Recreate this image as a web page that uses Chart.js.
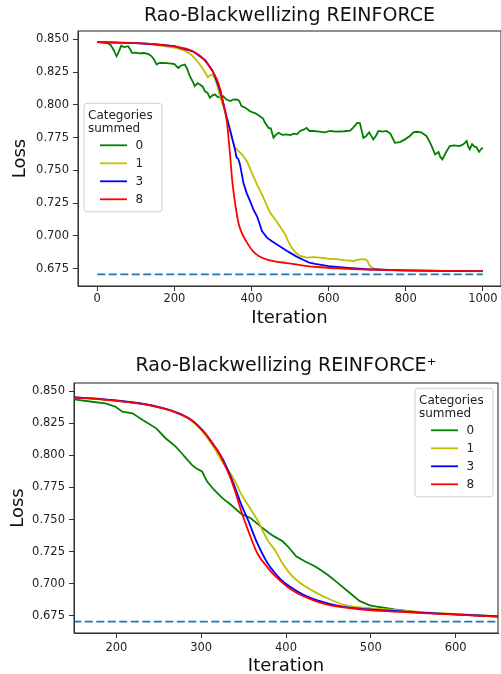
<!DOCTYPE html>
<html>
<head>
<meta charset="utf-8">
<script src="https://cdn.jsdelivr.net/npm/chart.js@4.4.1/dist/chart.umd.min.js"></script>
<style>
  html, body { margin: 0; padding: 0; background: #fff; }
  #wrap { position: relative; width: 501px; height: 674px; overflow: hidden; }
  canvas { position: absolute; left: 0; width: 501px; height: 337px; }
  #topChart { top: 0; }
  #bottomChart { top: 337px; }
</style>
</head>
<body>
<div id="wrap">
  <canvas id="topChart" width="501" height="337"></canvas>
  <canvas id="bottomChart" width="501" height="337"></canvas>
</div>
<script>
Chart.defaults.font.family = "'DejaVu Sans', sans-serif";
Chart.defaults.color = '#222';

// categories summed (legend entries)
const categories = ['0', '1', '3', '8'];
const legendTitle = ['Categories', 'summed'];
const optimumLoss = 0.6705;

// top chart: Rao-Blackwellizing REINFORCE
const topIter0 = [0,10,20,28,35,42,50,55,62,70,80,86,90,100,110,120,132,141,147,154,160,167,180,192,200,210,218,227,233,240,247,253,260,266,273,279,286,292,298,305,312,319,326,335,345,352,362,368,374,385,396,410,422,430,435,444,450,457,463,470,480,491,500,510,518,526,535,543,550,560,575,590,604,620,640,656,665,674,681,686,690,697,705,716,722,729,740,750,760,772,785,798,810,820,828,840,854,865,876,885,890,895,903,914,925,940,950,958,962,966,972,978,983,990,995,1000];
const topLoss0 = [0.8478,0.8477,0.8472,0.8468,0.8455,0.8420,0.8370,0.8400,0.8450,0.8440,0.8447,0.8420,0.8396,0.8398,0.8392,0.8395,0.8388,0.8370,0.8345,0.8307,0.8318,0.8320,0.8318,0.8314,0.8310,0.8281,0.8300,0.8307,0.8275,0.8218,0.8180,0.8142,0.8165,0.8155,0.8140,0.8104,0.8090,0.8053,0.8070,0.8079,0.8060,0.8055,0.8066,0.8040,0.8028,0.8040,0.8041,0.8030,0.7990,0.7975,0.7950,0.7935,0.7913,0.7895,0.7862,0.7824,0.7820,0.7748,0.7770,0.7786,0.7770,0.7774,0.7768,0.7780,0.7775,0.7800,0.7810,0.7824,0.7800,0.7800,0.7795,0.7790,0.7800,0.7795,0.7798,0.7802,0.7830,0.7862,0.7860,0.7800,0.7748,0.7760,0.7790,0.7736,0.7760,0.7800,0.7795,0.7800,0.7780,0.7710,0.7715,0.7736,0.7760,0.7790,0.7794,0.7790,0.7760,0.7700,0.7621,0.7640,0.7600,0.7583,0.7630,0.7685,0.7690,0.7685,0.7700,0.7723,0.7680,0.7660,0.7700,0.7680,0.7677,0.7640,0.7660,0.7672];
const topIter1 = [0,50,100,150,200,225,240,250,260,270,280,287,292,298,305,312,319,328,336,343,349,357,365,375,388,401,414,427,437,448,460,470,487,495,504,515,526,543,560,578,600,621,640,664,681,694,700,707,714,720,740,780,850,1000];
const topLoss1 = [0.8478,0.8476,0.8472,0.8458,0.8436,0.8415,0.8390,0.8365,0.8330,0.8290,0.8245,0.8210,0.8225,0.8230,0.8200,0.8140,0.8053,0.7980,0.7900,0.7830,0.7748,0.7672,0.7650,0.7621,0.7570,0.7480,0.7393,0.7317,0.7250,0.7177,0.7130,0.7088,0.7012,0.6960,0.6910,0.6870,0.6847,0.6834,0.6838,0.6834,0.6825,0.6822,0.6815,0.6808,0.6820,0.6822,0.6810,0.6770,0.6755,0.6747,0.6740,0.6735,0.6732,0.6728];
const topIter3 = [0,50,100,150,200,250,280,300,310,319,328,336,345,352,357,361,366,370,379,387,396,405,414,420,427,440,452,465,478,491,505,517,535,550,565,600,650,700,800,900,1000];
const topLoss3 = [0.8478,0.8475,0.8470,0.8462,0.8448,0.8405,0.8340,0.8255,0.8180,0.8100,0.8000,0.7900,0.7800,0.7720,0.7660,0.7600,0.7585,0.7545,0.7405,0.7330,0.7266,0.7200,0.7151,0.7100,0.7037,0.6986,0.6960,0.6935,0.6910,0.6886,0.6862,0.6841,0.6815,0.6795,0.6785,0.6768,0.6755,0.6745,0.6737,0.6733,0.6730];
const topIter8 = [0,50,100,150,200,230,250,270,285,300,310,319,328,336,340,345,350,355,360,366,375,388,400,411,422,440,460,491,530,578,650,700,800,900,1000];
const topLoss8 = [0.8478,0.8475,0.8470,0.8461,0.8446,0.8428,0.8405,0.8365,0.8315,0.8250,0.8195,0.8117,0.7990,0.7875,0.7760,0.7596,0.7420,0.7300,0.7200,0.7100,0.7020,0.6950,0.6895,0.6862,0.6840,0.6818,0.6805,0.6792,0.6775,0.6760,0.6748,0.6743,0.6737,0.6733,0.6730];

// bottom chart: Rao-Blackwellizing REINFORCE+
const botIter0 = [150,171,187,199,207,219,231,247,258,270,277,282,289,294,301,307,315,325,335,347,358,370,380,386,396,402,412,422,434,440,449,455,463,475,487,499,505,515,528,560,600,650];
const botLoss0 = [0.8435,0.8417,0.8404,0.8378,0.8340,0.8327,0.8275,0.8210,0.8133,0.8068,0.8016,0.7978,0.7926,0.7900,0.7874,0.7796,0.7732,0.7667,0.7615,0.7545,0.7512,0.7447,0.7396,0.7369,0.7331,0.7292,0.7214,0.7175,0.7137,0.7111,0.7070,0.7040,0.6995,0.6930,0.6865,0.6832,0.6825,0.6814,0.6800,0.6775,0.6762,0.6744];
const botIter1 = [150,199,250,285,301,313,325,339,347,355,366,378,388,394,400,406,416,432,452,471,491,519,560,600,650];
const botLoss1 = [0.8450,0.8425,0.8375,0.8285,0.8190,0.8080,0.7950,0.7810,0.7700,0.7615,0.7500,0.7344,0.7250,0.7180,0.7120,0.7070,0.7010,0.6943,0.6878,0.6832,0.6814,0.6800,0.6780,0.6765,0.6748];
const botIter3 = [150,199,250,285,301,313,325,335,341,347,355,366,378,385,394,404,420,440,459,483,518,560,600,650];
const botLoss3 = [0.8452,0.8427,0.8376,0.8290,0.8200,0.8098,0.7975,0.7830,0.7730,0.7620,0.7500,0.7318,0.7163,0.7100,0.7033,0.6981,0.6917,0.6865,0.6832,0.6808,0.6793,0.6775,0.6762,0.6746];
const botIter8 = [150,175,199,227,247,262,275,285,293,301,307,313,320,325,335,341,347,355,366,378,385,394,404,414,420,434,440,454,470,487,518,560,600,650];
const botLoss8 = [0.8450,0.8440,0.8425,0.8404,0.8378,0.8353,0.8320,0.8288,0.8250,0.8197,0.8150,0.8094,0.8030,0.7965,0.7815,0.7700,0.7570,0.7421,0.7240,0.7130,0.7075,0.7020,0.6965,0.6925,0.6905,0.6867,0.6853,0.6831,0.6814,0.6802,0.6787,0.6772,0.6760,0.6745];

const yTicks = [0.675, 0.700, 0.725, 0.750, 0.775, 0.800, 0.825, 0.850];
const topXTicks = [0, 200, 400, 600, 800, 1000];
const botXTicks = [200, 300, 400, 500, 600];

const lineColors = ['#008000', '#bfbf00', '#0000ff', '#ff0000'];
const optColor = '#1f77b4';

const zip = (xs, ys) => xs.slice(0, Math.min(xs.length, ys.length)).map((x, i) => ({ x: x, y: ys[i] }));

function drawLegend(ctx, x, y) {
    const w = 78, h = 108.5;
    ctx.save();
    ctx.beginPath();
    ctx.roundRect(x, y, w, h, 3);
    ctx.fillStyle = 'rgba(255,255,255,0.8)';
    ctx.fill();
    ctx.strokeStyle = '#d0d0d0';
    ctx.lineWidth = 1;
    ctx.stroke();
    ctx.fillStyle = '#222';
    ctx.font = "12px 'DejaVu Sans'";
    ctx.textAlign = 'left';
    ctx.textBaseline = 'alphabetic';
    ctx.fillText(legendTitle[0], x + 4, y + 15.5);
    ctx.fillText(legendTitle[1], x + 4, y + 29);
    ctx.textBaseline = 'middle';
    categories.forEach((c, i) => {
        const ly = y + 42 + i * 18;
        ctx.strokeStyle = lineColors[i];
        ctx.lineWidth = 1.8;
        ctx.beginPath();
        ctx.moveTo(x + 16, ly);
        ctx.lineTo(x + 43, ly);
        ctx.stroke();
        ctx.fillText(c, x + 51.5, ly + 0.5);
    });
    ctx.restore();
}

const framePlugin = {
    id: 'frame',
    afterDraw(chart, args, opts) {
        const { ctx, chartArea: a } = chart;
        ctx.save();
        ctx.strokeStyle = '#333';
        ctx.lineWidth = 1.1;
        ctx.strokeRect(a.left, a.top, a.right - a.left, a.bottom - a.top);
        ctx.restore();
        const lx = opts.fromRight ? a.right - opts.dx : a.left + opts.dx;
        drawLegend(ctx, lx, a.top + opts.dy);
    }
};

function makeChart(canvasId, c) {
    const datasets = c.series.map((s, i) => ({
        label: categories[i],
        data: zip(s[0], s[1]),
        borderColor: lineColors[i],
        borderWidth: 1.8,
        pointRadius: 0,
        fill: false,
        clip: 0,
        cubicInterpolationMode: s[2] ? 'monotone' : 'default',
        order: 4 - i
    }));
    datasets.push({
        label: 'optimum',
        data: [{ x: 0, y: optimumLoss }, { x: 1000, y: optimumLoss }],
        borderColor: optColor,
        borderWidth: 1.8,
        borderDash: [8, 3.5],
        pointRadius: 0,
        fill: false,
        clip: 0,
        order: 5
    });

    return new Chart(document.getElementById(canvasId), {
        type: 'line',
        data: { datasets: datasets },
        plugins: [framePlugin],
        options: {
            responsive: false,
            animation: false,
            events: [],
            layout: { padding: c.padding },
            plugins: {
                legend: { display: false },
                tooltip: { enabled: false },
                title: {
                    display: true,
                    text: c.title,
                    fullSize: false,
                    color: '#111',
                    font: { size: 19, weight: 'normal' },
                    padding: c.titlePadding
                },
                frame: c.legendPos
            },
            scales: {
                x: {
                    type: 'linear',
                    min: c.xMin,
                    max: c.xMax,
                    afterFit: s => { s.height = c.xHeight; },
                    afterBuildTicks: s => { s.ticks = c.xTicks.map(v => ({ value: v })); },
                    ticks: {
                        callback: v => String(v),
                        font: { size: 11.5 },
                        color: '#222',
                        padding: c.xTickPad,
                        maxRotation: 0,
                        autoSkip: false
                    },
                    grid: { drawOnChartArea: false, tickLength: 5, color: '#333' },
                    border: { color: '#333', width: 1 },
                    title: {
                        display: true,
                        text: 'Iteration',
                        color: '#111',
                        font: { size: 18 },
                        padding: { top: 0, bottom: c.xTitlePad }
                    }
                },
                y: {
                    type: 'linear',
                    min: 0.6617,
                    max: 0.8563,
                    afterFit: s => { s.width = c.yWidth; },
                    afterBuildTicks: s => { s.ticks = yTicks.map(v => ({ value: v })); },
                    ticks: {
                        callback: v => v.toFixed(3),
                        font: { size: 11.5 },
                        color: '#222',
                        padding: 4
                    },
                    grid: { drawOnChartArea: false, tickLength: 5, color: '#333' },
                    border: { color: '#333', width: 1 },
                    title: {
                        display: true,
                        text: 'Loss',
                        color: '#111',
                        font: { size: 18 },
                        padding: { top: c.yTitlePad, bottom: 0 }
                    }
                }
            }
        }
    });
}

makeChart('topChart', {
    title: 'Rao-Blackwellizing REINFORCE',
    series: [[topIter0, topLoss0, false], [topIter1, topLoss1, false], [topIter3, topLoss3, false], [topIter8, topLoss8, true]],
    xMin: -50, xMax: 1047,
    xTicks: topXTicks,
    padding: { left: 0, right: 0, top: 0, bottom: 0 },
    titlePadding: { top: 4.6, bottom: 3.6 },
    xHeight: 51, yWidth: 78,
    xTickPad: 1.5,
    xTitlePad: 7.5, yTitlePad: 9.7,
    legendPos: { fromRight: false, dx: 6, dy: 72.3 }
});

makeChart('bottomChart', {
    title: 'Rao-Blackwellizing REINFORCE\u207A',
    series: [[botIter0, botLoss0, false], [botIter1, botLoss1, true], [botIter3, botLoss3, true], [botIter8, botLoss8, true]],
    xMin: 150, xMax: 650,
    xTicks: botXTicks,
    padding: { left: 0, right: 3, top: 0, bottom: 0 },
    titlePadding: { top: 18, bottom: 5.2 },
    xHeight: 41, yWidth: 74,
    xTickPad: 3.5,
    xTitlePad: -3.5, yTitlePad: 7.9,
    legendPos: { fromRight: true, dx: 83, dy: 5.3 }
});
</script>
</body>
</html>
